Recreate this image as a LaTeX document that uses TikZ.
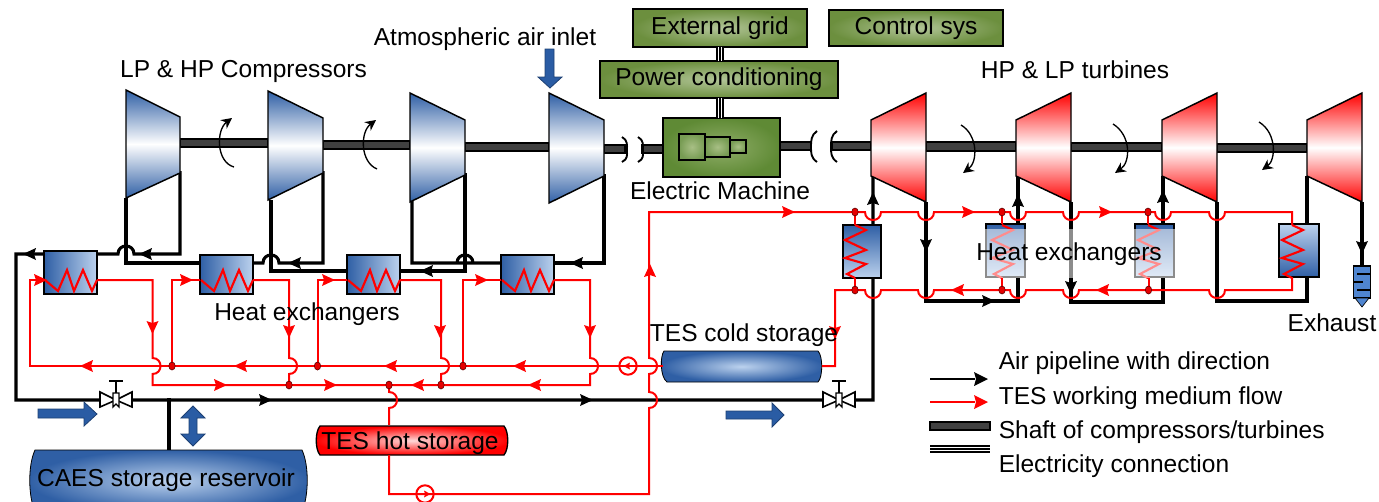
\documentclass[tikz,border=0pt]{standalone}
\usepackage{fontspec}
\setmainfont{Liberation Sans}
\usetikzlibrary{arrows.meta,calc}
\definecolor{cblue}{HTML}{2F5FA5}
\definecolor{lblue}{HTML}{BCD2EE}
\definecolor{gedge}{HTML}{6C8F3E}
\definecolor{gmid}{HTML}{B2C598}
\definecolor{medge}{HTML}{5F8A35}
\definecolor{mmid}{HTML}{8FAD68}
\definecolor{rmid}{HTML}{A8BF85}
\definecolor{redl}{HTML}{FF0000}
\definecolor{arrowb}{HTML}{2A5CA4}
\definecolor{exhb}{HTML}{4F85D0}
\tikzset{
  blk/.style={draw=black,line width=2.3pt,line join=miter},
  blks/.style={draw=black,line width=2.5pt,line join=miter},
  rd/.style={draw=redl,line width=1.5pt,line join=miter},
  zig/.style={draw=redl,line width=1.6pt,line join=miter},
  lab/.style={font=\fontsize{18.4}{20}\selectfont,inner sep=0pt,text=black},
  gbox/.style={draw=black,line width=1.1pt,inner color=gmid,outer color=gedge,font=\fontsize{18.4}{20}\selectfont},
  mbox/.style={draw=black,line width=1.1pt,inner color=mmid,outer color=medge},
  rbox/.style={draw=black,line width=1.1pt,inner color=rmid,outer color=medge!85!white},
  shaft/.style={draw=black,line width=.8pt,fill=black!75},
  hxh/.style={draw=black,line width=1.1pt,left color=cblue,right color=lblue},
  hxdn/.style={draw=black,line width=1.1pt,top color=cblue,bottom color=lblue},
  hxup/.style={draw=black,line width=1.1pt,top color=lblue,bottom color=cblue},
  comp/.style={draw=black,line width=1.1pt,top color=cblue,bottom color=cblue,middle color=white},
  turb/.style={draw=black,line width=1.1pt,top color=redl,bottom color=redl,middle color=white},
  barrel/.style={draw=black,line width=.6pt,inner color=#1,outer color=cblue},
  barrel/.default=lblue,
  blockarrow/.style={fill=arrowb,draw=arrowb!70!black,line width=.6pt},
  rot/.style={draw=black,line width=1pt,-{Stealth[length=8pt,width=8pt]}},
  jdot/.style={fill=red!90!black,draw=red!40!black,line width=.5pt},
  elec/.style={draw=black,line width=6.2pt},
  elecw/.style={draw=white,line width=3.4pt},
  elecb/.style={draw=black,line width=1pt},
}
% box from corners
\newcommand{\bx}[7]{%
  \pgfmathsetlengthmacro\bw{(#4-#2)*0.75pt}%
  \pgfmathsetlengthmacro\bh{(#5-#3)*0.75pt}%
  \node[#6,minimum width=\bw,minimum height=\bh,inner sep=0pt,outer sep=0pt] (#1) at ({(#2+#4)/2},{(#3+#5)/2}) {#7};}
% bumps on pipes
\def\bUr#1#2{-- ({#1-8},#2) .. controls ({#1-8},{#2+10.7}) and ({#1+8},{#2+10.7}) .. ({#1+8},#2)}
\def\bUl#1#2{-- ({#1+8},#2) .. controls ({#1+8},{#2+10.7}) and ({#1-8},{#2+10.7}) .. ({#1-8},#2)}
\def\bTl#1#2{-- ({#1+8},#2) .. controls ({#1+8},{#2-10.7}) and ({#1-8},{#2-10.7}) .. ({#1-8},#2)}
\def\bRd#1#2{-- (#1,{#2-8}) .. controls ({#1+10.7},{#2-8}) and ({#1+10.7},{#2+8}) .. (#1,{#2+8})}
\def\bRu#1#2{-- (#1,{#2+8}) .. controls ({#1+10.7},{#2+8}) and ({#1+10.7},{#2-8}) .. (#1,{#2-8})}
% flow arrowhead: colour, x, y, angle
\newcommand{\arr}[4]{\fill[#1,shift={(#2,#3)},rotate=#4] (7,0) -- (-6,6) -- (-4,0) -- (-6,-6) -- cycle;}
\newcommand{\arrbig}[4]{\fill[#1,shift={(#2,#3)},rotate=#4] (7,0) -- (-7,7) -- (-5,0) -- (-7,-7) -- cycle;}
\newcommand{\arrsm}[4]{\fill[#1,shift={(#2,#3)},rotate=#4] (3.5,0) -- (-3,3.5) -- (-2,0) -- (-3,-3.5) -- cycle;}
\newcommand{\jd}[2]{\fill[jdot] (#1,#2) ellipse [x radius=3.2,y radius=4];}
\newcommand{\valve}[2]{\begin{scope}[shift={(#1,#2)}]
  \draw[black,line width=1.2pt] (0,-7) -- (0,-19) (-7,-19) -- (7,-19);
  \draw[black,line width=1.2pt,fill=white] (-16,-8) -- (-16,7) -- (0,0) -- (16,7) -- (16,-8) -- (0,0) -- cycle;
  \draw[black,line width=1pt,fill=white] (-3,-7) -- (3,-7) -- (3,7) -- (0,4) -- (-3,7) -- cycle;
\end{scope}}
\newcommand{\zigH}[1]{\draw[zig,shift={(#1,0)}] (1,280) -- (14,291) -- (23,270) -- (30,291) -- (39,270) -- (48,291) -- (53,280);}
\newcommand{\zigV}[1]{\draw[zig,shift={(#1,0)}] (0,225) -- (11,230) -- (-10,240) -- (11,250) -- (-10,258) -- (11,264) -- (-8,274) -- (0,278);}
\newcommand{\trap}[7]{\shade[#1] (#2,#3) -- (#4,#5) -- (#4,#6) -- (#2,#7) -- cycle;}
\begin{document}
\begin{tikzpicture}[x=0.75pt,y=-0.75pt]
\path[use as bounding box,clip] (0,0) rectangle (1379,501);
% shafts
\bx{s1}{180}{139}{268}{147}{shaft}{}
\bx{s2}{323}{141}{410}{149}{shaft}{}
\bx{s3}{465}{143}{549}{151}{shaft}{}
\bx{s4}{604}{145}{625}{153}{shaft}{}
\bx{s5}{642}{145}{663}{153}{shaft}{}
\bx{s6}{780}{142}{811}{150}{shaft}{}
\bx{s7}{832}{142}{871}{150}{shaft}{}
\bx{s8}{926}{142}{1016}{151}{shaft}{}
\bx{s9}{1071}{143}{1162}{151}{shaft}{}
\bx{s10}{1217}{144}{1307}{152}{shaft}{}
% couplings
\draw[line width=1.4pt] (622,137) .. controls (628,140) and (627,146) .. (627,150) .. controls (627,155) and (628,159) .. (622,162);
\draw[line width=1.4pt] (638,137) .. controls (644,140) and (643,146) .. (643,150) .. controls (643,155) and (644,159) .. (638,162);
\draw[line width=1.4pt] (817,131) .. controls (811,135) and (811,141) .. (811,147) .. controls (811,153) and (811,158) .. (817,162);
\draw[line width=1.4pt] (837,131) .. controls (831,135) and (831,141) .. (831,147) .. controls (831,153) and (831,158) .. (837,162);
% machine ports
\coordinate (c1in) at (126,198); \coordinate (c1out) at (180,171);
\coordinate (c2in) at (271,200); \coordinate (c2out) at (323,171);
\coordinate (c3in) at (412,201); \coordinate (c3out) at (465,173);
\coordinate (c4out) at (604,174);
\coordinate (t1in) at (873,176); \coordinate (t1out) at (926,202);
\coordinate (t2in) at (1018,176); \coordinate (t2out) at (1071,202);
\coordinate (t3in) at (1163,176); \coordinate (t3out) at (1217,202);
\coordinate (t4in) at (1307,176); \coordinate (t4out) at (1362,202);
% black air pipes
\draw[blk] (c1out) -- (180,254) \bTl{126}{254} -- (44,254) -- (16,254) -- (16,400) -- (873,400) -- (t1in);
\draw[blks] (c1in) -- (126,263) -- (200,263);
\draw[blk] (c2out) -- (323,263) \bTl{271}{263} -- (253,263);
\draw[blks] (c2in) -- (271,271) -- (347,271);
\draw[blks] (c3out) -- (465,271) -- (400,271);
\draw[blk] (c3in) -- (412,263) \bTl{465}{263} -- (501,263);
\draw[blks] (c4out) -- (604,263) -- (554,263);
\draw[blks] (t1out) -- (926,301) -- (1018,301) -- (t2in);
\draw[blks] (t2out) -- (1071,302) -- (1163,302) -- (t3in);
\draw[blks] (t3out) -- (1217,301) -- (1307,301) -- (t4in);
\draw[blks] (t4out) -- (1362,267);
\draw[blks] (169,398) -- (169,450);
% compressors and turbines
\trap{comp}{126}{90}{180}{117}{173}{198}
\trap{comp}{268}{91}{323}{118}{173}{200}
\trap{comp}{410}{93}{465}{120}{175}{202}
\trap{comp}{549}{93}{604}{120}{176}{203}
\shade[turb] (871,120) -- (926,93) -- (926,202) -- (871,176) -- cycle;
\shade[turb] (1016,120) -- (1071,93) -- (1071,202) -- (1016,176) -- cycle;
\shade[turb] (1162,120) -- (1217,93) -- (1217,202) -- (1162,176) -- cycle;
\shade[turb] (1307,120) -- (1362,93) -- (1362,202) -- (1307,176) -- cycle;
% electric machine
\bx{em}{663}{118}{780}{177}{mbox}{}
\bx{em1}{679}{134}{705}{160}{rbox}{}
\bx{em2}{705}{137}{730}{157}{rbox}{}
\bx{em3}{730}{140}{746}{153}{rbox}{}
% boxes
\bx{grid}{633}{9}{807}{47}{gbox}{\raisebox{-2.2pt}{External grid}}
\bx{pc}{600}{61}{838}{98}{gbox}{\raisebox{-2.2pt}{Power conditioning}}
\bx{ctrl}{829}{10}{1003}{46}{gbox}{\raisebox{-2.2pt}{Control sys}}
\foreach \a/\b in {grid/pc,pc/em}{
  \draw[elec] (\a.south -| grid.south) -- (\b.north -| grid.south);
  \draw[elecw] (\a.south -| grid.south) -- (\b.north -| grid.south);
  \draw[elecb] (\a.south -| grid.south) -- (\b.north -| grid.south);
}
% heat exchangers
\bx{hx1}{44}{251}{97}{294}{hxh}{}
\bx{hx2}{200}{255}{253}{294}{hxh}{}
\bx{hx3}{347}{255}{400}{294}{hxh}{}
\bx{hx4}{501}{255}{554}{294}{hxh}{}
\bx{hx5}{843}{225}{881}{278}{hxdn}{}
\bx{hx6}{986}{224}{1025}{277}{hxdn}{}
\bx{hx7}{1135}{224}{1174}{277}{hxdn}{}
\bx{hx8}{1279}{224}{1319}{277}{hxup}{}
% storages
\shade[barrel] (664,351) .. controls (660,356) and (660,377) .. (667,382) -- (818,382) .. controls (823,377) and (823,356) .. (818,351) -- cycle;
\coordinate (coldW) at (663,366); \coordinate (coldE) at (822,366);
\shade[draw=black,line width=1pt,inner color=red!15!white,outer color=redl] (320,426) .. controls (315,432) and (315,449) .. (320,455) -- (504,455) .. controls (509,449) and (509,432) .. (504,426) -- cycle;
\shade[barrel=lblue] (35,450) -- (302,450) .. controls (309,465) and (309,495) .. (302,512) -- (35,512) .. controls (28,495) and (28,465) .. (35,450) -- cycle;
% red circuit
\coordinate (jc1) at (172,366); \coordinate (jc2) at (317.5,366); \coordinate (jc3) at (463,366);
\coordinate (jh1) at (289,385); \coordinate (jh2) at (389,385); \coordinate (jh3) at (441,385);
\coordinate (p1) at (855,212); \coordinate (p2) at (1002,212); \coordinate (p3) at (1148,212);
\coordinate (q1) at (855,290); \coordinate (q2) at (1002,290); \coordinate (q3) at (1148.5,290);
\draw[rd] (jh2) \bRd{389}{400} -- (389,425);
\draw[rd] (389,455) -- (389,494) -- (649,494) \bRu{649}{400} \bRu{649}{366} -- (649,212) -- (p1) \bUr{873}{212} \bUr{926}{212} -- (p2) \bUr{1018}{212} \bUr{1071}{212} -- (p3) \bUr{1163}{212} \bUr{1217}{212} -- (1292,212) -- (1292,225);
\draw[rd] (1292,277) -- (1292,290) \bUl{1217}{290} -- (q3) \bUl{1071}{290} \bUl{1018}{290} -- (q2) \bUl{926}{290} \bUl{873}{290} -- (q1) -- (835,290) -- (835,366) -- (coldE);
\draw[rd] (coldW) -- (30,366) -- (30,280) -- (hx1.west|-0,280);
\draw[rd] (jc1) -- (172,280) -- (hx2.west|-0,280);
\draw[rd] (jc2) -- (317.5,280) -- (hx3.west|-0,280);
\draw[rd] (jc3) -- (463,280) -- (hx4.west|-0,280);
\draw[rd] (hx1.east|-0,280) -- (152.5,280) \bRd{152.5}{366} -- (152.5,385) -- (590,385) \bRu{590}{366} -- (590,280) -- (hx4.east|-0,280);
\draw[rd] (hx2.east|-0,280) -- (289,280) \bRd{289}{366} -- (jh1);
\draw[rd] (hx3.east|-0,280) -- (441,280) \bRd{441}{366} -- (jh3);
\zigH{44}\zigH{200}\zigH{347}\zigH{501}
\zigV{855}\zigV{1002}\zigV{1148}\zigV{1292}
\draw[rd] (p1) -- (855,225) (855,278) -- (q1);
\draw[rd] (p2) -- (1002,224) (1002,277) -- (q2);
\draw[rd] (p3) -- (1148,224) (1148.5,277) -- (q3);
% junction dots
\jd{172}{366}\jd{317.5}{366}\jd{463}{366}
\jd{289}{385}\jd{389}{385}\jd{441}{385}
\jd{855}{212}\jd{1002}{212}\jd{1148}{212}
\jd{855}{290}\jd{1002}{290}\jd{1148.5}{290}
% pumps
\draw[redl,line width=1.5pt] (628,366) circle [radius=8.7];
\draw[redl,line width=1.5pt] (425,494) circle [radius=8.7];
\arrsm{redl}{627}{366}{180}
\arrsm{redl}{427}{494}{0}
% flow arrows, red
\arr{redl}{40}{280}{0}\arr{redl}{186}{280}{0}\arr{redl}{328}{280}{0}\arr{redl}{481}{280}{0}
\arr{redl}{152.5}{327}{270}\arr{redl}{289}{331}{270}\arr{redl}{440}{331}{270}\arr{redl}{590}{331}{270}
\arr{redl}{87}{366}{180}\arr{redl}{241}{366}{180}\arr{redl}{391}{366}{180}\arr{redl}{520}{366}{180}
\arr{redl}{220}{385}{0}\arr{redl}{330}{385}{0}\arr{redl}{418}{385}{180}\arr{redl}{535}{385}{180}
\arr{redl}{650}{271}{90}\arr{redl}{788}{212}{0}\arr{redl}{968}{212}{0}\arr{redl}{1105}{212}{0}
\arr{redl}{1103}{290}{180}\arr{redl}{958}{290}{180}\arr{redl}{835}{332}{270}
% flow arrows, black
\arr{black}{146}{254}{180}\arr{black}{30}{254}{180}\arr{black}{295}{263}{180}\arr{black}{427}{271}{180}\arr{black}{577}{263}{180}
\arr{black}{265}{400}{0}\arr{black}{586}{400}{0}
\arr{black}{873}{199}{90}\arr{black}{926}{245}{270}\arr{black}{988}{301}{0}\arr{black}{1018}{201}{90}\arr{black}{1071}{287}{270}\arr{black}{1163}{197}{90}\arr{black}{1362}{247}{270}
% valves
\coordinate (v1) at (116,400); \coordinate (v2) at (839,400);
\valve{116}{400}\valve{839}{400}
% block arrows
\fill[blockarrow] (545,49) -- (554,49) -- (554,77) -- (562,77) -- (550,88) -- (538,77) -- (545,77) -- cycle;
\fill[blockarrow] (38,409) -- (84,409) -- (84,402) -- (97,414) -- (84,426) -- (84,418) -- (38,418) -- cycle;
\fill[blockarrow] (726,411) -- (772,411) -- (772,403) -- (784,415) -- (772,427) -- (772,419) -- (726,419) -- cycle;
\fill[blockarrow] (193,406) -- (205,418) -- (197,418) -- (197,434) -- (205,434) -- (193,446) -- (181,434) -- (189,434) -- (189,418) -- (181,418) -- cycle;
% rotation arrows
\draw[rot] (234,167) .. controls (216,162) and (216,130) .. (232,118);
\draw[rot] (377,169) .. controls (360,162) and (360,132) .. (376,120);
\draw[rot] (961,125) .. controls (978,135) and (978,162) .. (963,173);
\draw[rot] (1113,124) .. controls (1131,135) and (1131,162) .. (1115,173);
\draw[rot] (1259,122) .. controls (1277,133) and (1276,160) .. (1262,170);
% exhaust
\fill[fill=exhb,draw=black,line width=.9pt] (1353.5,266) rectangle (1370.5,298);
\fill[fill=exhb,draw=black,line width=.5pt] (1355,298) -- (1369,298) -- (1362,307) -- cycle;
\draw[black,line width=1pt] (1357,274) -- (1370.5,274) (1353.5,282) -- (1363,282) (1357,290) -- (1370.5,290);
% washed area
\fill[white,opacity=.55] (984,229) rectangle (1176,278);
% labels
\node[lab] (l1) at (243.5,71) {LP \& HP Compressors};
\node[lab] (l2) at (485,39) {Atmospheric air inlet};
\node[lab] (l3) at (720,191) {Electric Machine};
\node[lab] (l4) at (1075,70) {HP \& LP turbines};
\node[lab] (l5) at (307,314) {Heat exchangers};
\node[lab] (l6) at (1069,254) {Heat exchangers};
\node[lab] (l7) at (744,335) {TES cold storage};
\node[lab] (l8) at (1332,323) {Exhaust};
\node[lab] (l9) at (410,443) {TES hot storage};
\node[lab] (l10) at (166,480) {CAES storage reservoir};
% legend
\node[lab,anchor=west] (k1) at (998.5,363) {Air pipeline with direction};
\node[lab,anchor=west] (k2) at (998.5,398) {TES working medium flow};
\node[lab,anchor=west] (k3) at (998.5,432) {Shaft of compressors/turbines};
\node[lab,anchor=west] (k4) at (998.5,466) {Electricity connection};
\coordinate (ka) at (930,379); \coordinate (kb) at (975,379);
\coordinate (kc) at (930,402); \coordinate (kd) at (975,402);
\draw[black,line width=1.5pt] (ka) -- (kb);
\arrbig{black}{981}{379}{0}
\draw[redl,line width=1.5pt] (kc) -- (kd);
\arrbig{redl}{981}{402}{0}
\bx{ks}{930}{422}{990}{430}{shaft}{}
\coordinate (ke) at (930,449); \coordinate (kf) at (990,449);
\draw[black,line width=6.2pt] (ke) -- (kf);
\draw[white,line width=3.4pt] (ke) -- (kf);
\draw[black,line width=1pt] (ke) -- (kf);
\end{tikzpicture}
\end{document}
